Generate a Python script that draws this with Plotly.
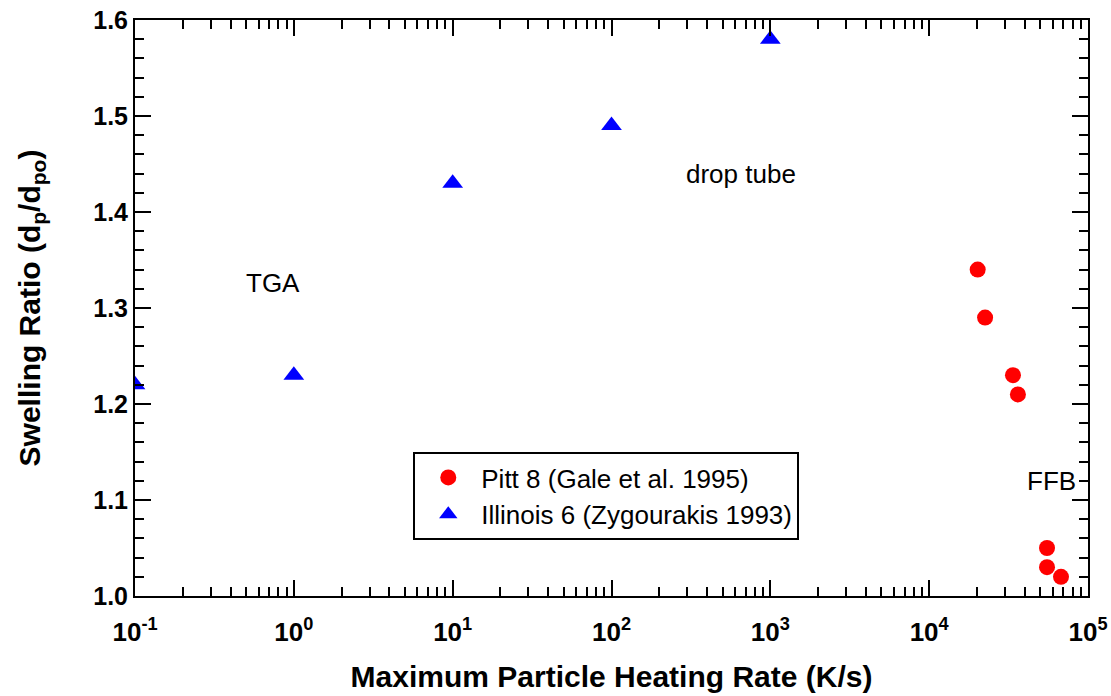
import math
import plotly.graph_objects as go

# Data
pitt_rate = [2.02e4, 2.25e4, 3.37e4, 3.62e4, 5.52e4, 5.52e4, 6.76e4]
pitt_swell = [1.34, 1.29, 1.23, 1.21, 1.05, 1.03, 1.02]
ill_rate = [0.1, 1, 10, 100, 1000]
ill_swell = [1.22, 1.23, 1.43, 1.49, 1.58]

x_tickvals = [0.1, 1, 10, 100, 1000, 10000, 100000]
x_ticktext = ["10<sup>-1</sup>", "10<sup>0</sup>", "10<sup>1</sup>", "10<sup>2</sup>",
              "10<sup>3</sup>", "10<sup>4</sup>", "10<sup>5</sup>"]
y_tickvals = [1.0, 1.1, 1.2, 1.3, 1.4, 1.5, 1.6]
y_ticktext = ["1.0", "1.1", "1.2", "1.3", "1.4", "1.5", "1.6"]

notes = [("TGA", 0.74, 1.326), ("drop tube", 653, 1.44), ("FFB", 5.85e4, 1.12)]

FONT = "Liberation Sans, Arial, sans-serif"

fig = go.Figure()
fig.add_trace(go.Scatter(x=pitt_rate, y=pitt_swell, mode="markers",
                         name="Pitt 8 (Gale et al. 1995)",
                         marker=dict(symbol="circle", size=16, color="#ff0000")))
fig.add_trace(go.Scatter(x=ill_rate, y=ill_swell, mode="markers",
                         name="Illinois 6 (Zygourakis 1993)",
                         marker=dict(symbol="triangle-up", size=18, color="#0000ff")))

for txt, xv, yv in notes:
    fig.add_annotation(x=math.log10(xv), y=yv, text=txt, showarrow=False,
                       font=dict(family=FONT, size=26, color="black"))

fig.update_xaxes(type="log", range=[-1, 5], tickvals=x_tickvals, ticktext=x_ticktext,
                 ticks="inside", ticklen=16, tickwidth=2, tickcolor="black",
                 showline=True, linewidth=2, linecolor="black", mirror="ticks",
                 showgrid=False, zeroline=False, ticklabelstandoff=12,
                 minor=dict(ticks="inside", ticklen=9, tickwidth=2, tickcolor="black",
                            dtick="D1", showgrid=False),
                 tickfont=dict(family=FONT, size=26, color="black", weight="bold"),
                 title=dict(text="<b>Maximum Particle Heating Rate (K/s)</b>",
                            font=dict(family=FONT, size=30, color="black"), standoff=20))
fig.update_yaxes(range=[1.0, 1.6], tickvals=y_tickvals, ticktext=y_ticktext,
                 ticks="inside", ticklen=16, tickwidth=2, tickcolor="black",
                 showline=True, linewidth=2, linecolor="black", mirror="ticks",
                 showgrid=False, zeroline=False,
                 minor=dict(ticks="inside", ticklen=9, tickwidth=2, tickcolor="black",
                            dtick=0.02, showgrid=False),
                 tickfont=dict(family=FONT, size=25, color="black", weight="bold"),
                 title=dict(text="<b>Swelling Ratio (d<sub>p</sub>/d<sub>po</sub>)</b>",
                            font=dict(family=FONT, size=30, color="black"), standoff=44))

fig.update_layout(
    width=1111, height=696,
    margin=dict(l=135, r=23, t=20, b=100, autoexpand=False),
    plot_bgcolor="white", paper_bgcolor="white",
    legend=dict(x=0.292, y=0.250, xanchor="left", yanchor="top",
                bordercolor="black", borderwidth=2, bgcolor="white",
                font=dict(family=FONT, size=26, color="black"),
                itemwidth=56, tracegroupgap=0),
)

fig.write_html("out.html")
